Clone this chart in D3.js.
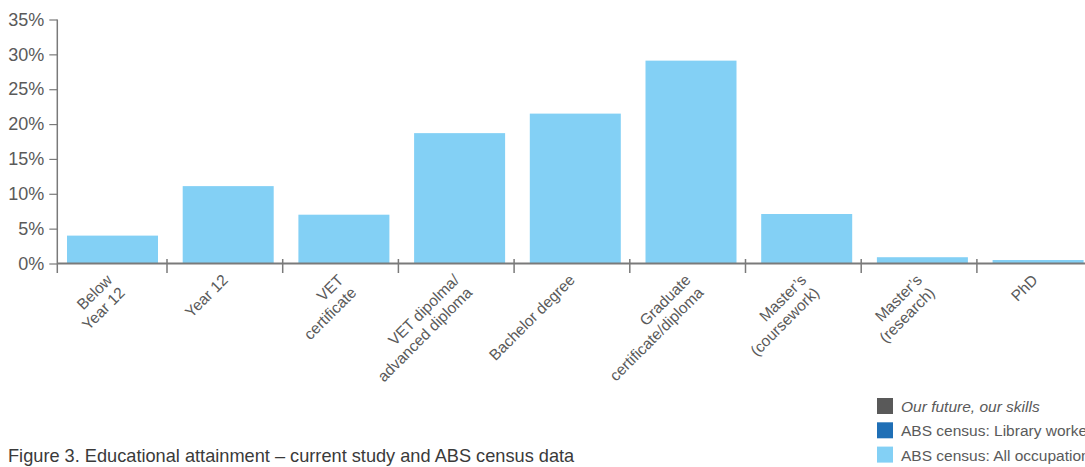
<!DOCTYPE html>
<html>
<head>
<meta charset="utf-8">
<script src="https://cdn.jsdelivr.net/npm/d3@7"></script>
<style>
  html, body { margin: 0; padding: 0; background: #fff; }
  svg { display: block; font-family: "Liberation Sans", Arial, sans-serif; }
</style>
</head>
<body>
<svg id="chart" width="1085" height="467"></svg>
<script>
// ---- data ----
const categories = [
  "Below Year 12", "Year 12", "VET certificate", "VET dipolma/ advanced diploma",
  "Bachelor degree", "Graduate certificate/diploma", "Master's (coursework)",
  "Master's (research)", "PhD"
];
const categoryLines = [
  ["Below", "Year 12"],
  ["Year 12"],
  ["VET", "certificate"],
  ["VET dipolma/", "advanced diploma"],
  ["Bachelor degree"],
  ["Graduate", "certificate/diploma"],
  ["Master\u2019s", "(coursework)"],
  ["Master\u2019s", "(research)"],
  ["PhD"]
];
const seriesNames = ["Our future, our skills", "ABS census: Library workers", "ABS census: All occupations"];
const seriesColors = ["#595959", "#1f6fb6", "#83d0f5"];
const allOccupations = [4.0, 11.1, 7.0, 18.7, 21.5, 29.1, 7.1, 0.9, 0.5];
const yTicks = [0, 5, 10, 15, 20, 25, 30, 35];
const title = "Figure 3. Educational attainment \u2013 current study and ABS census data";

// ---- layout ----
const svg = d3.select("#chart");
const axisX = 57.3, bandStart = 51.3, bandW = 115.7;
const x = d3.scaleBand().domain(categories).range([bandStart, bandStart + bandW * categories.length]).paddingInner(0).paddingOuter(0);
const y = d3.scaleLinear().domain([0, 35]).range([263.5, 19.5]);
const axisColor = "#7a7a7a";
const textColor = "#5a5a5a";

// bars
svg.append("g").selectAll("rect")
  .data(categories)
  .join("rect")
  .attr("x", (d) => x(d) + 15.7)
  .attr("width", 91)
  .attr("y", (d, i) => y(allOccupations[i]))
  .attr("height", (d, i) => y(0) - y(allOccupations[i]))
  .attr("fill", seriesColors[2]);

// y axis
const yAxis = d3.axisLeft(y).tickValues(yTicks).tickSize(8).tickPadding(5).tickFormat(d => d + "%");
const gy = svg.append("g").attr("transform", `translate(${axisX},0)`).call(yAxis);
gy.select(".domain").remove();
gy.selectAll(".tick line").attr("stroke", axisColor).attr("stroke-width", 1.2);
gy.selectAll(".tick text").attr("fill", textColor).style("font-size", "18px").style("font-family", "'Liberation Sans', Arial, sans-serif");
svg.append("line").attr("x1", axisX).attr("x2", axisX).attr("y1", y(35)).attr("y2", 273)
  .attr("stroke", axisColor).attr("stroke-width", 1.5);

// x axis line
svg.append("line").attr("x1", axisX).attr("x2", 1085).attr("y1", y(0)).attr("y2", y(0))
  .attr("stroke", axisColor).attr("stroke-width", 2);
// x ticks at band boundaries
svg.append("g").selectAll("line")
  .data(categories.slice(1))
  .join("line")
  .attr("x1", d => x(d)).attr("x2", d => x(d))
  .attr("y1", 259).attr("y2", 273)
  .attr("stroke", axisColor).attr("stroke-width", 1.5);

// x labels (lines right-aligned, rotated -45)
const lab = svg.append("g").selectAll("g")
  .data(categories)
  .join("g")
  .attr("transform", d => `translate(${x(d) + x.bandwidth() / 2 + 4},281) rotate(-45)`);
lab.each(function (d, i) {
  const g = d3.select(this);
  categoryLines[i].forEach((line, k) => {
    g.append("text").attr("text-anchor", "end").attr("x", 0).attr("y", 18 * k)
      .attr("fill", textColor).style("font-size", "15.5px").text(line);
  });
});

// legend
const leg = svg.append("g").attr("transform", "translate(877,398)");
seriesNames.forEach((name, i) => {
  leg.append("rect").attr("x", 0).attr("y", i * 24.3).attr("width", 16).attr("height", 16).attr("fill", seriesColors[i]);
  leg.append("text").attr("x", 24).attr("y", i * 24.3 + 14).attr("fill", textColor)
    .style("font-size", "15.5px").style("font-style", i === 0 ? "italic" : "normal").text(name);
});

// title
svg.append("text").attr("x", 8).attr("y", 462).attr("fill", "#3a3a3a")
  .style("font-size", "18.2px").style("font-weight", "500").text(title);
</script>
</body>
</html>
